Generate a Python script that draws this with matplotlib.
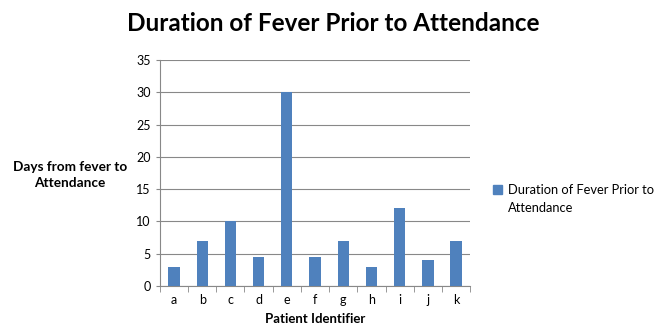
import matplotlib
matplotlib.use("Agg")
import matplotlib.pyplot as plt
from matplotlib.patches import Patch
import numpy as np

patients = ["a", "b", "c", "d", "e", "f", "g", "h", "i", "j", "k"]
days = [3, 7, 10, 4.5, 30, 4.5, 7, 3, 12, 4, 7]
yticks = [0, 5, 10, 15, 20, 25, 30, 35]

bar_color = "#4F81BD"
plt.rcParams["font.family"] = ["Lato", "DejaVu Sans"]

fig = plt.figure(figsize=(6.66, 3.34), dpi=100)
ax = fig.add_axes([0.240, 0.144, 0.466, 0.676])

x = np.arange(len(patients))
ax.bar(x, days, width=0.4, color=bar_color, zorder=3)

ax.set_xlim(-0.5, len(patients) - 0.5)
ax.set_ylim(0, 35)
ax.set_yticks(yticks)
ax.set_xticks(x)
ax.set_xticklabels(patients, fontsize=9)
ax.tick_params(axis="y", labelsize=9, length=3, color="#888888")
ax.tick_params(axis="x", length=0, pad=6)
# category separator ticks
ax.set_xticks(np.arange(-0.5, len(patients)), minor=True)
ax.tick_params(axis="x", which="minor", length=4, color="#888888")

ax.grid(axis="y", color="#888888", linewidth=0.8, zorder=0)
for s in ["top", "right"]:
    ax.spines[s].set_visible(False)
ax.spines["left"].set_color("#888888")
ax.spines["bottom"].set_color("#888888")

ax.set_xlabel("Patient Identifier", fontsize=9.5, fontweight="bold", labelpad=5)
fig.text(0.105, 0.475, "Days from fever to\nAttendance", fontsize=9.8,
         fontweight="bold", ha="center", va="center", linespacing=1.4)

fig.suptitle("Duration of Fever Prior to Attendance", fontsize=17.5,
             fontweight="bold", y=0.965)

# legend: swatch next to the first line of a wrapped label
handle = Patch(color=bar_color)
blank = Patch(color="none")
leg = fig.legend([handle, blank], ["Duration of Fever Prior to", "Attendance"],
                 loc="center left", bbox_to_anchor=(0.733, 0.405), frameon=False,
                 fontsize=9.3, handlelength=0.7, handleheight=0.7,
                 handletextpad=0.4, borderaxespad=0, labelspacing=0.45)

fig.savefig("out.png", dpi=100)
